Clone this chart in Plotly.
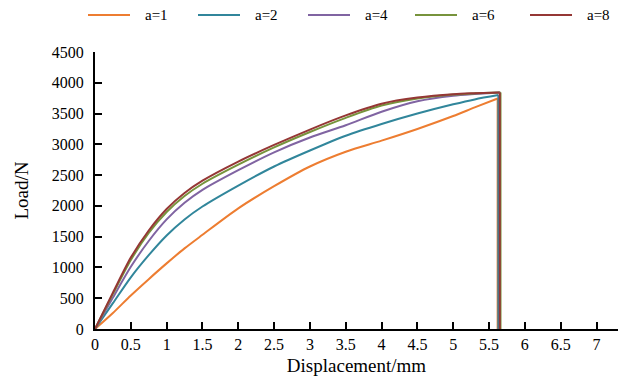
import plotly.graph_objects as go

# Load–displacement curves for different values of a
disp = [0, 0.25, 0.5, 0.75, 1.0, 1.25, 1.5, 2.0, 2.5, 3.0, 3.5, 4.0, 4.5, 5.0, 5.3]

load_a1 = [0, 260, 545, 810, 1066, 1310, 1530, 1960, 2320, 2640, 2880, 3060, 3250, 3460, 3600]
load_a2 = [0, 420, 840, 1200, 1520, 1780, 1990, 2330, 2640, 2900, 3140, 3330, 3500, 3650, 3730]
load_a4 = [0, 510, 1010, 1430, 1780, 2050, 2260, 2580, 2870, 3110, 3310, 3530, 3700, 3790, 3818]
load_a6 = [0, 570, 1120, 1560, 1900, 2160, 2360, 2670, 2950, 3200, 3430, 3630, 3745, 3808, 3828]
load_a8 = [0, 590, 1160, 1600, 1950, 2210, 2410, 2720, 2990, 3240, 3470, 3660, 3760, 3815, 3830]

# Peak point reached just before failure, then the sudden drop to zero
fail_disp = [5.62, 5.63, 5.65, 5.66, 5.65]
peak_load = [3745, 3800, 3843, 3843, 3843]

labels = ["a=1", "a=2", "a=4", "a=6", "a=8"]
colors = ["#ED7D31", "#31869B", "#8064A2", "#77933C", "#953735"]
series = [load_a1, load_a2, load_a4, load_a6, load_a8]

x_ticks = [0, 0.5, 1, 1.5, 2, 2.5, 3, 3.5, 4, 4.5, 5, 5.5, 6, 6.5, 7]
x_ticktext = ["0", "0.5", "1", "1.5", "2", "2.5", "3", "3.5", "4", "4.5", "5", "5.5", "6", "6.5", "7"]

FONT = "Liberation Serif, Times New Roman, serif"
W, H = 620, 378
M_L, M_R, M_T, M_B = 95, 2, 52, 49
PLOT_W = W - M_L - M_R
PLOT_H = H - M_T - M_B

fig = go.Figure()
# smooth loading branches up to the peak
for name, color, ys, xf, yp in zip(labels, colors, series, fail_disp, peak_load):
    fig.add_trace(go.Scatter(
        x=disp + [xf], y=ys + [yp], mode="lines", name=name,
        showlegend=False,
        line=dict(color=color, width=2, shape="spline", smoothing=0.8),
    ))
# vertical drops at failure
for name, color, xf, yp in zip(labels, colors, fail_disp, peak_load):
    fig.add_trace(go.Scatter(
        x=[xf, xf], y=[yp, 0], mode="lines", name=name, showlegend=False,
        line=dict(color=color, width=2),
    ))

# legend row across the top: key line followed by its label
key_left_px = [88, 198, 308, 415, 530]
key_len_px = 42
text_gap_px = 13
legend_y_px = 15


def px_to_paper_x(px):
    return (px - M_L) / PLOT_W


def px_to_paper_y(py):
    return (H - M_B - py) / PLOT_H


ly = px_to_paper_y(legend_y_px)
for name, color, x0 in zip(labels, colors, key_left_px):
    fig.add_shape(
        type="line", xref="paper", yref="paper",
        x0=px_to_paper_x(x0), x1=px_to_paper_x(x0 + key_len_px), y0=ly, y1=ly,
        line=dict(color=color, width=2),
    )
    fig.add_annotation(
        xref="paper", yref="paper",
        x=px_to_paper_x(x0 + key_len_px + text_gap_px), y=ly,
        xanchor="left", yanchor="middle", showarrow=False,
        text=name, font=dict(size=15, family=FONT, color="black"),
    )

fig.update_layout(
    width=W, height=H,
    margin=dict(l=M_L, r=M_R, t=M_T, b=M_B, autoexpand=False),
    paper_bgcolor="white", plot_bgcolor="white",
    font=dict(family=FONT, size=16, color="black"),
    showlegend=False,
)
fig.update_xaxes(
    range=[0, 7.3], tickvals=x_ticks, ticktext=x_ticktext,
    showline=True, linecolor="black", linewidth=2,
    ticks="inside", ticklen=7, tickwidth=1.5, tickcolor="black",
    showgrid=False, zeroline=False,
    title=dict(text="Displacement/mm", standoff=6),
)
fig.update_yaxes(
    range=[0, 4500], dtick=500, tick0=0,
    showline=True, linecolor="black", linewidth=2,
    ticks="inside", ticklen=7, tickwidth=1.5, tickcolor="black",
    showgrid=False, zeroline=False,
    ticklabelstandoff=6,
    title=dict(text="Load/N", standoff=18),
)

fig.write_html("out.html")
